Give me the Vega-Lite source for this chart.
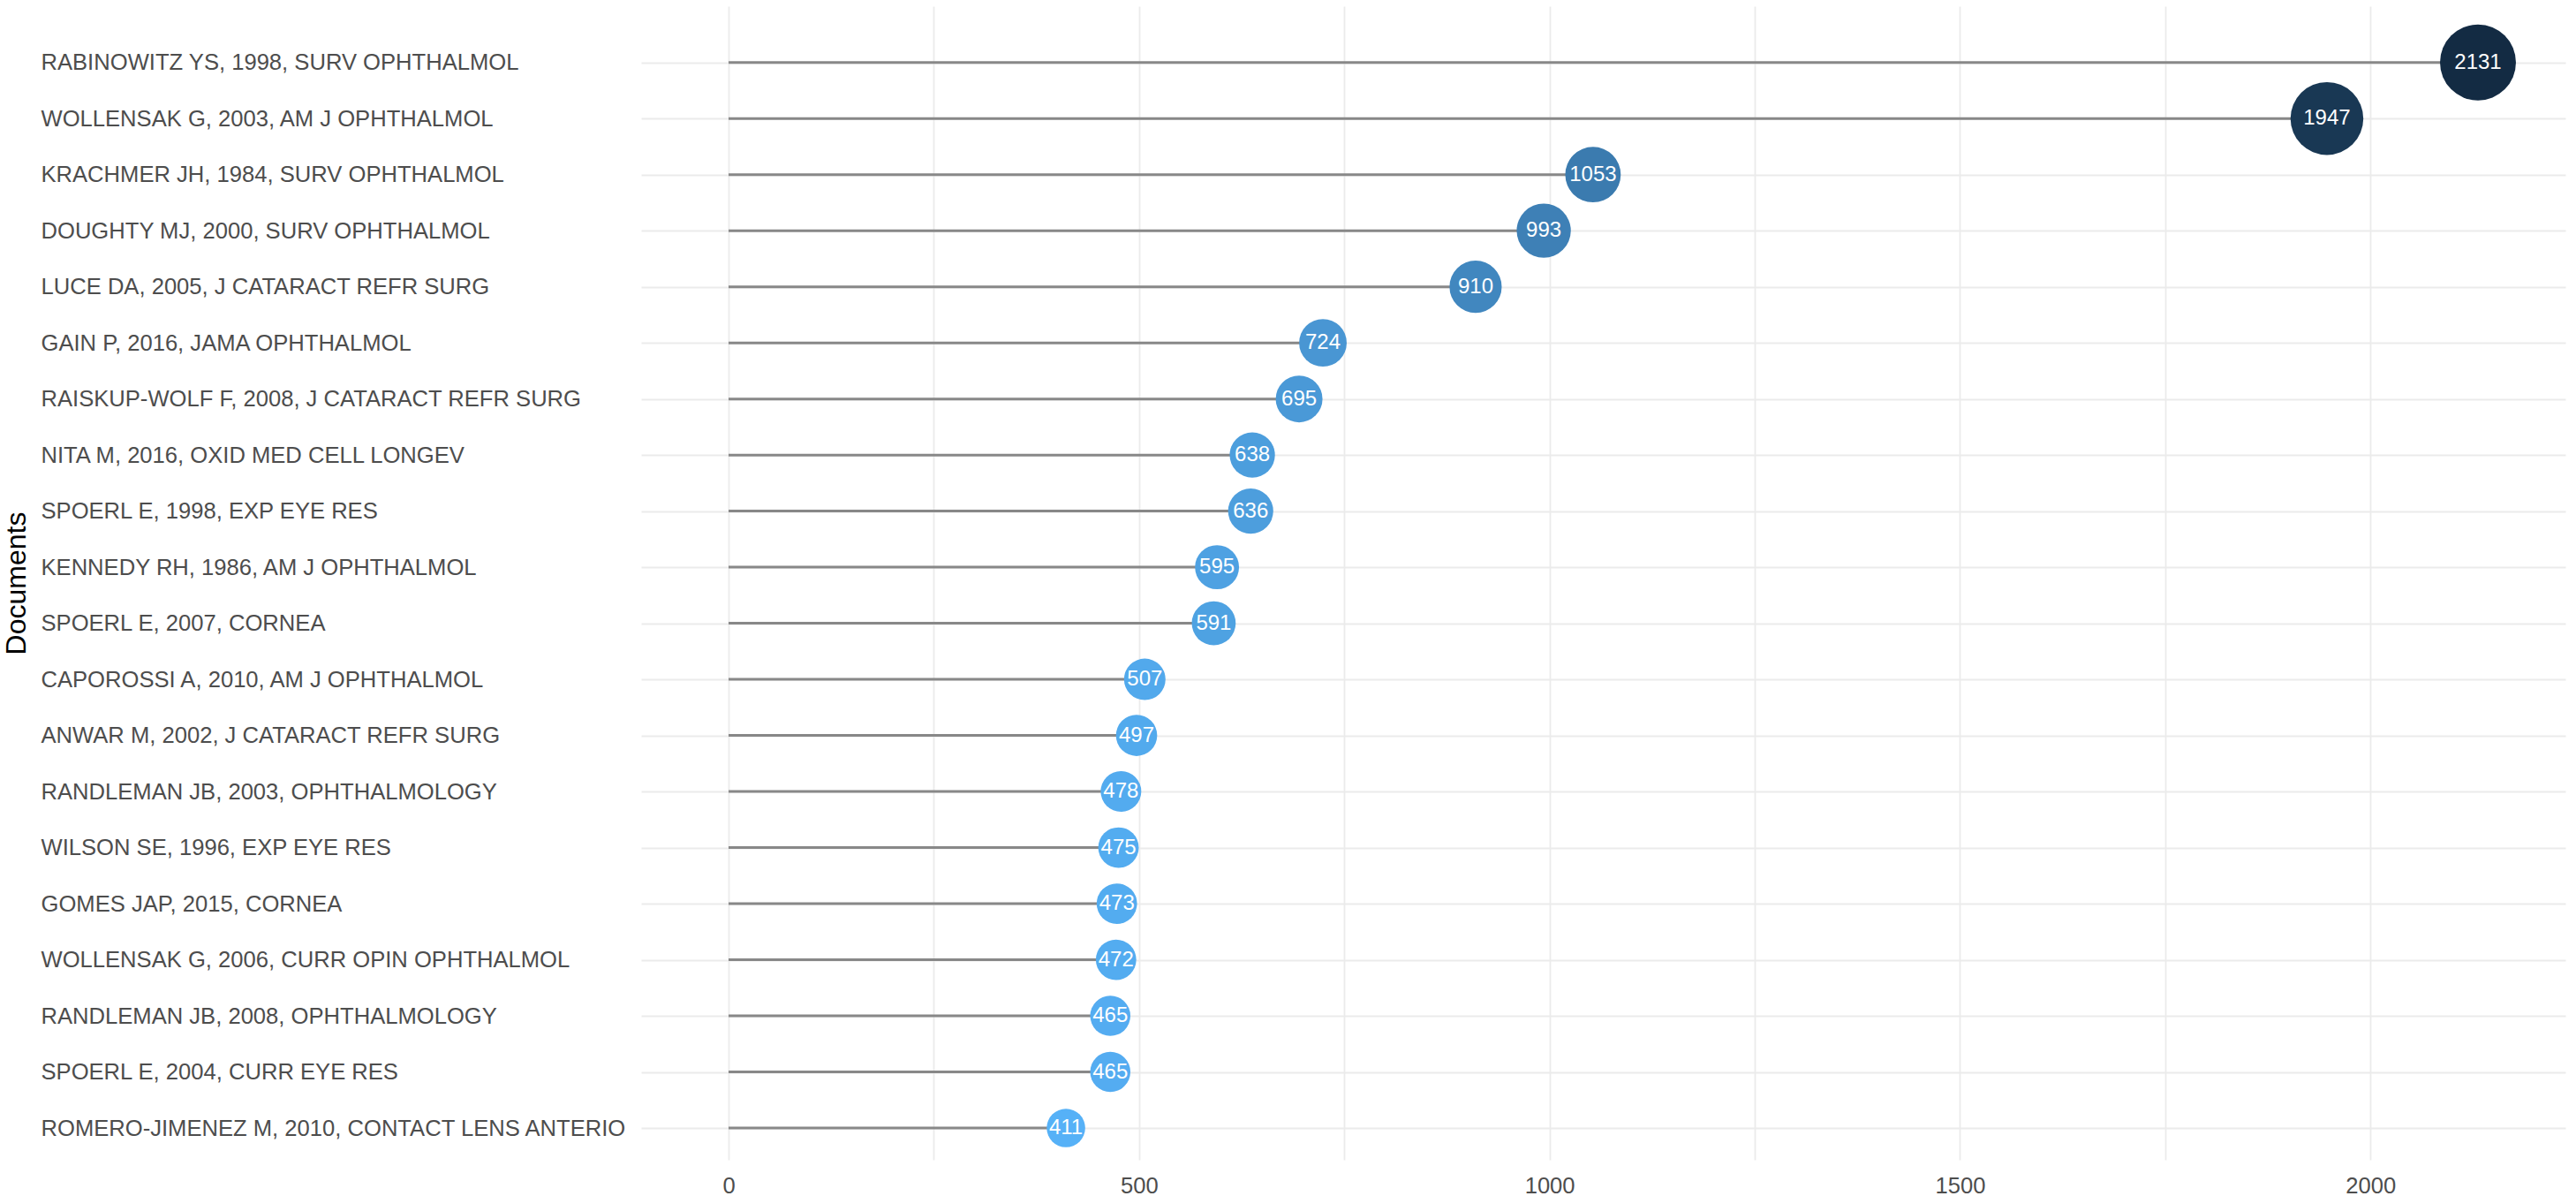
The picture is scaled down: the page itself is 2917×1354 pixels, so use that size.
{
  "$schema": "https://vega.github.io/schema/vega-lite/v6.json",
  "autosize": {"type": "none"},
  "width": 2179,
  "height": 1306,
  "padding": {"left": 726, "top": 7, "right": 12, "bottom": 41},
  "background": "white",
  "config": {
    "view": {"stroke": null},
    "font": "Liberation Sans"
  },
  "data": {
    "values": [
      {"document": "RABINOWITZ YS, 1998, SURV OPHTHALMOL", "citations": 2131},
      {"document": "WOLLENSAK G, 2003, AM J OPHTHALMOL", "citations": 1947},
      {"document": "KRACHMER JH, 1984, SURV OPHTHALMOL", "citations": 1053},
      {"document": "DOUGHTY MJ, 2000, SURV OPHTHALMOL", "citations": 993},
      {"document": "LUCE DA, 2005, J CATARACT REFR SURG", "citations": 910},
      {"document": "GAIN P, 2016, JAMA OPHTHALMOL", "citations": 724},
      {"document": "RAISKUP-WOLF F, 2008, J CATARACT REFR SURG", "citations": 695},
      {"document": "NITA M, 2016, OXID MED CELL LONGEV", "citations": 638},
      {"document": "SPOERL E, 1998, EXP EYE RES", "citations": 636},
      {"document": "KENNEDY RH, 1986, AM J OPHTHALMOL", "citations": 595},
      {"document": "SPOERL E, 2007, CORNEA", "citations": 591},
      {"document": "CAPOROSSI A, 2010, AM J OPHTHALMOL", "citations": 507},
      {"document": "ANWAR M, 2002, J CATARACT REFR SURG", "citations": 497},
      {"document": "RANDLEMAN JB, 2003, OPHTHALMOLOGY", "citations": 478},
      {"document": "WILSON SE, 1996, EXP EYE RES", "citations": 475},
      {"document": "GOMES JAP, 2015, CORNEA", "citations": 473},
      {"document": "WOLLENSAK G, 2006, CURR OPIN OPHTHALMOL", "citations": 472},
      {"document": "RANDLEMAN JB, 2008, OPHTHALMOLOGY", "citations": 465},
      {"document": "SPOERL E, 2004, CURR EYE RES", "citations": 465},
      {"document": "ROMERO-JIMENEZ M, 2010, CONTACT LENS ANTERIO", "citations": 411}
    ]
  },
  "encoding": {
    "y": {
      "field": "document",
      "type": "nominal",
      "sort": null,
      "scale": {"type": "point", "padding": 0.785, "align": 0.639},
      "axis": {
        "title": "Documents",
        "titleFontSize": 32,
        "titleFont": "Liberation Sans",
        "titleFontWeight": "normal",
        "titleColor": "#000000",
        "titleAngle": -90,
        "titleX": -708,
        "titleY": 653,
        "titleAlign": "center",
        "titleBaseline": "middle",
        "labelAlign": "left",
        "labelBaseline": "middle",
        "labelPadding": 680,
        "labelFontSize": 25.6,
        "labelColor": "#4D4D4D",
        "labelLimit": 0,
        "ticks": false,
        "tickSize": 0,
        "domain": false,
        "grid": true,
        "gridColor": "#EBEBEB",
        "gridWidth": 2
      }
    },
    "x": {
      "field": "citations",
      "type": "quantitative",
      "scale": {"domain": [-106.5, 2237.5], "nice": false, "zero": false},
      "axis": {
        "title": null,
        "format": "d",
        "values": [0, 250, 500, 750, 1000, 1250, 1500, 1750, 2000],
        "labelExpr": "datum.value % 500 === 0 ? datum.label : ''",
        "labelFontSize": 25.6,
        "labelColor": "#4D4D4D",
        "labelPadding": 17,
        "ticks": false,
        "tickSize": 0,
        "domain": false,
        "grid": true,
        "gridColor": "#EBEBEB",
        "gridWidth": 1.8
      }
    }
  },
  "layer": [
    {
      "mark": {"type": "rule", "color": "#888888", "strokeWidth": 3},
      "encoding": {
        "x2": {"datum": 0}
      }
    },
    {
      "mark": {"type": "circle", "opacity": 1},
      "encoding": {
        "size": {
          "field": "citations",
          "type": "quantitative",
          "scale": {"domain": [411, 2131], "range": [1900, 7390], "zero": false},
          "legend": null
        },
        "color": {
          "field": "citations",
          "type": "quantitative",
          "scale": {"domain": [411, 2131], "range": ["#56B1F7", "#132B43"], "interpolate": "lab"},
          "legend": null
        }
      }
    },
    {
      "mark": {"type": "text", "color": "white", "fontSize": 24, "font": "Liberation Sans", "align": "center", "baseline": "middle"},
      "encoding": {
        "text": {"field": "citations", "type": "quantitative", "format": "d"}
      }
    }
  ]
}
